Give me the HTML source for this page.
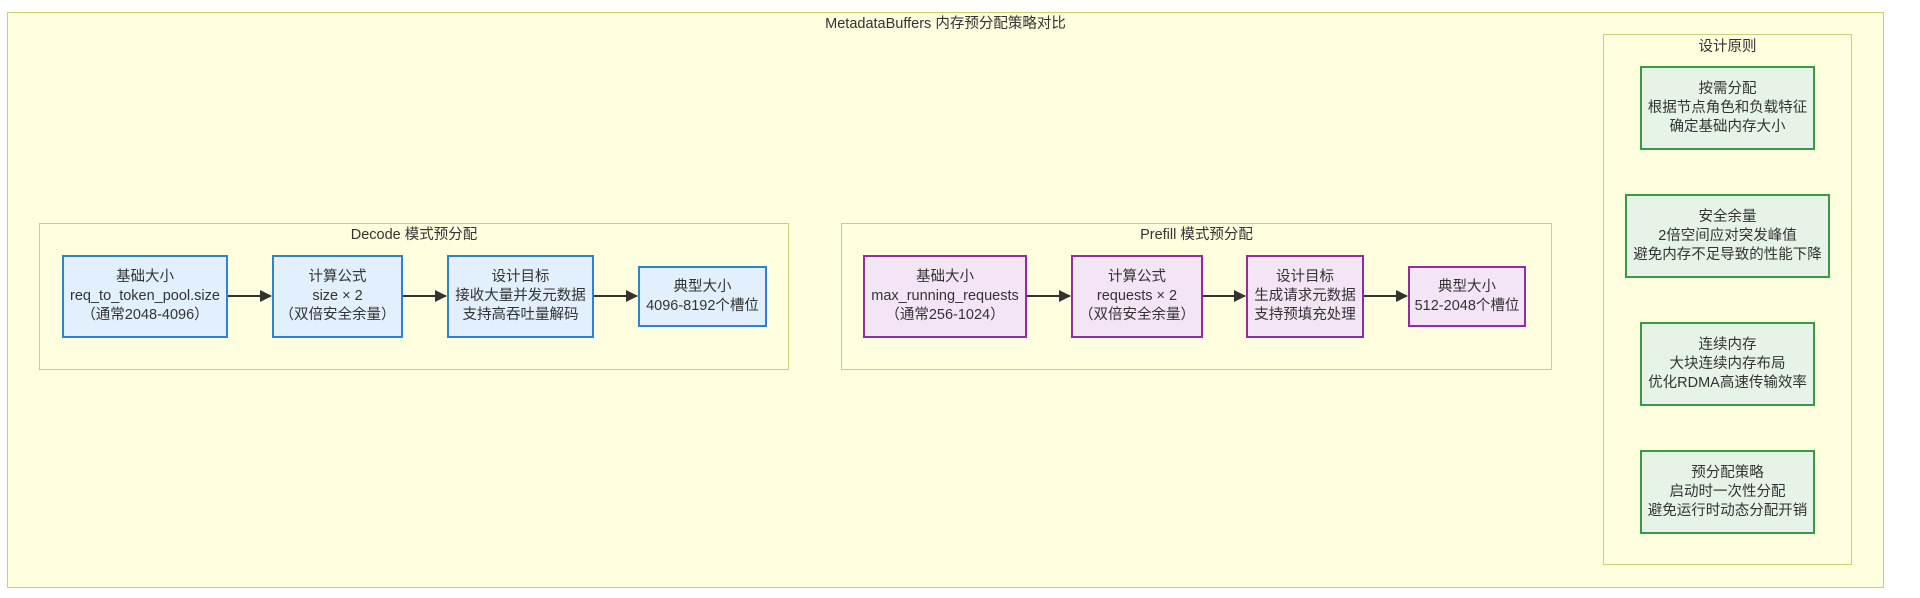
<!DOCTYPE html>
<html><head><meta charset="utf-8"><style>
body{margin:0;width:1920px;height:598px;background:#fff;position:relative;overflow:hidden;font-family:"Liberation Sans","Noto Sans CJK SC",sans-serif;color:#333;}
.g{position:absolute;box-sizing:border-box;background:#fffede;border:1.5px solid #cdcd7a;}
.t{position:absolute;text-align:center;font-size:14.5px;line-height:19px;}
.n{position:absolute;box-sizing:border-box;display:flex;align-items:center;justify-content:center;text-align:center;font-size:14.5px;line-height:19px;border:2px solid;}
.b{background:#e1f0fc;border-color:#2a84d2;}
.p{background:#f3e5f5;border-color:#8e2ea2;}
.gr{background:#e6f4e8;border-color:#3a9848;}
</style></head><body>
<div class="g" style="left:7px;top:12px;width:1877px;height:576px;"></div>
<div class="t" style="left:7px;width:1877px;top:15px;">MetadataBuffers 内存预分配策略对比</div>

<div class="g" style="left:39px;top:223px;width:750px;height:147px;"></div>
<div class="t" style="left:39px;width:750px;top:226px;">Decode 模式预分配</div>
<div class="n b" style="left:62px;top:255px;width:166px;height:83px;">基础大小<br>req_to_token_pool.size<br>（通常2048-4096）</div>
<div class="n b" style="left:272px;top:255px;width:131px;height:83px;">计算公式<br>size × 2<br>（双倍安全余量）</div>
<div class="n b" style="left:447px;top:255px;width:147px;height:83px;">设计目标<br>接收大量并发元数据<br>支持高吞吐量解码</div>
<div class="n b" style="left:638px;top:266px;width:129px;height:61px;">典型大小<br>4096-8192个槽位</div>

<div class="g" style="left:841px;top:223px;width:711px;height:147px;"></div>
<div class="t" style="left:841px;width:711px;top:226px;">Prefill 模式预分配</div>
<div class="n p" style="left:863px;top:255px;width:164px;height:83px;">基础大小<br>max_running_requests<br>（通常256-1024）</div>
<div class="n p" style="left:1071px;top:255px;width:132px;height:83px;">计算公式<br>requests × 2<br>（双倍安全余量）</div>
<div class="n p" style="left:1246px;top:255px;width:118px;height:83px;">设计目标<br>生成请求元数据<br>支持预填充处理</div>
<div class="n p" style="left:1408px;top:266px;width:118px;height:61px;">典型大小<br>512-2048个槽位</div>

<svg style="position:absolute;left:0;top:0" width="1920" height="598">
<defs><marker id="a" markerWidth="12" markerHeight="12" refX="11" refY="6" orient="auto" markerUnits="userSpaceOnUse"><path d="M0,0L12,6L0,12z" fill="#333"/></marker></defs>
<g stroke="#333" stroke-width="2" marker-end="url(#a)">
<line x1="228" y1="296" x2="271" y2="296"/>
<line x1="403" y1="296" x2="446" y2="296"/>
<line x1="594" y1="296" x2="637" y2="296"/>
<line x1="1027" y1="296" x2="1070" y2="296"/>
<line x1="1203" y1="296" x2="1245" y2="296"/>
<line x1="1364" y1="296" x2="1407" y2="296"/>
</g></svg>

<div class="g" style="left:1603px;top:34px;width:249px;height:531px;"></div>
<div class="t" style="left:1603px;width:249px;top:38px;">设计原则</div>
<div class="n gr" style="left:1640px;top:66px;width:175px;height:84px;">按需分配<br>根据节点角色和负载特征<br>确定基础内存大小</div>
<div class="n gr" style="left:1625px;top:194px;width:205px;height:84px;">安全余量<br>2倍空间应对突发峰值<br>避免内存不足导致的性能下降</div>
<div class="n gr" style="left:1640px;top:322px;width:175px;height:84px;">连续内存<br>大块连续内存布局<br>优化RDMA高速传输效率</div>
<div class="n gr" style="left:1640px;top:450px;width:175px;height:84px;">预分配策略<br>启动时一次性分配<br>避免运行时动态分配开销</div>
</body></html>
